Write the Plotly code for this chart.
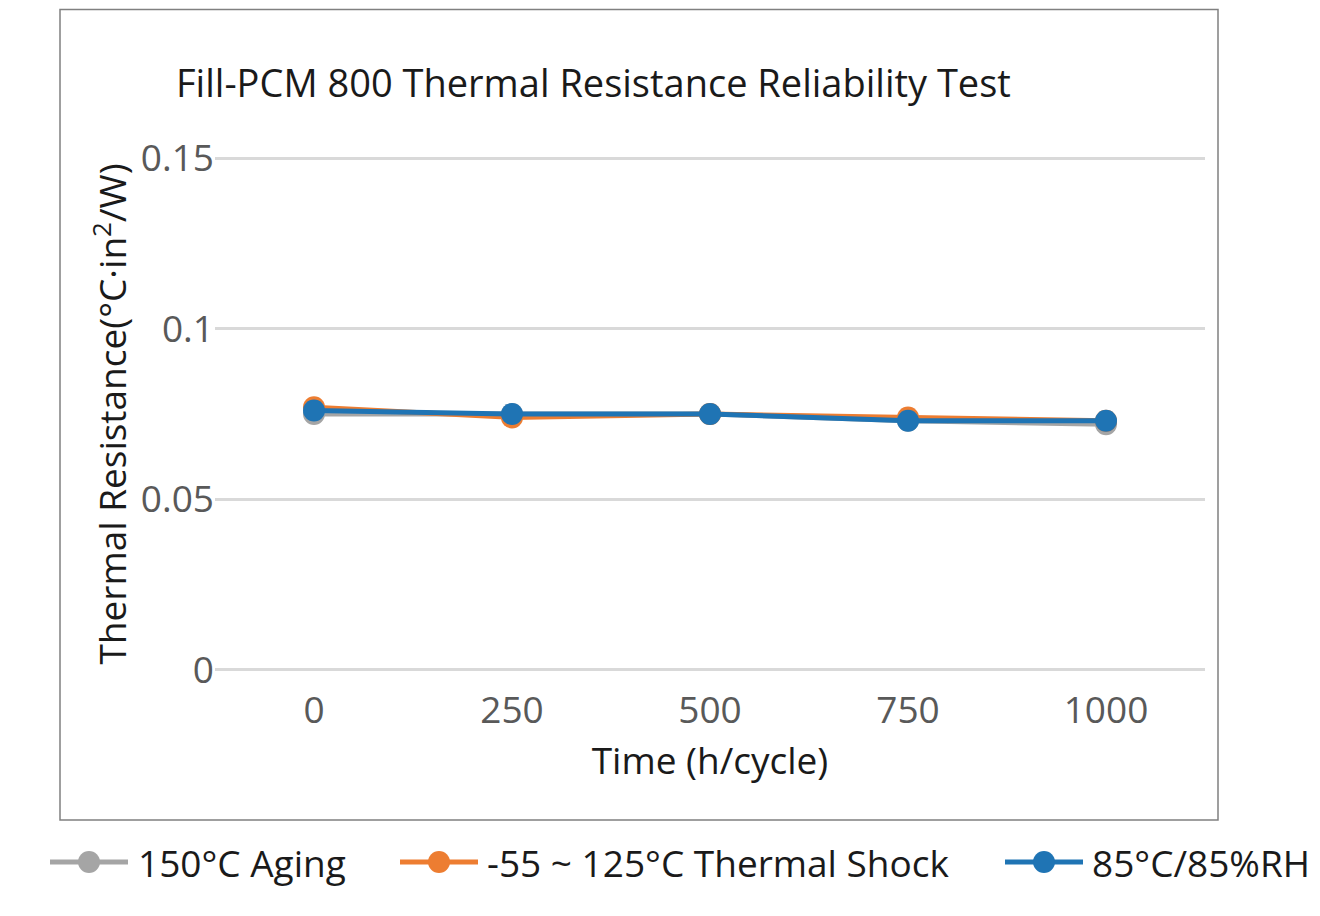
import plotly.graph_objects as go

categories = ["0", "250", "500", "750", "1000"]
aging = [0.075, 0.075, 0.075, 0.073, 0.072]
shock = [0.077, 0.074, 0.075, 0.074, 0.073]
humid = [0.076, 0.075, 0.075, 0.073, 0.073]
y_ticks = [0, 0.05, 0.1, 0.15]
y_tick_labels = ["0", "0.05", "0.1", "0.15"]

series = [
    ("150°C Aging", aging, "#A5A5A5"),
    ("-55 ~ 125°C Thermal Shock", shock, "#ED7D31"),
    ("85°C/85%RH", humid, "#1F74B4"),
]

FONT = "Open Sans"
OFF = 8  # page body margin
W, H = 1320 - OFF, 916 - OFF
L, R, T, B = 215 - OFF, 115, 157 - OFF, 245
pw, ph = W - L - R, H - T - B

def px(x):
    # x given in screenshot coords
    return (x - OFF - L) / pw

def py(y):
    return (H - B - (y - OFF)) / ph

fig = go.Figure()
for name, vals, col in series:
    fig.add_trace(go.Scatter(
        x=categories, y=vals, name=name, mode="lines+markers",
        line=dict(color=col, width=5),
        marker=dict(color=col, size=22),
        showlegend=False,
    ))

# outer frame
fig.add_shape(type="rect", xref="paper", yref="paper",
              x0=px(60), x1=px(1218), y0=py(820), y1=py(9.5),
              line=dict(color="#808080", width=1.5), fillcolor="rgba(0,0,0,0)", layer="below")

# title
fig.add_annotation(text="Fill-PCM 800 Thermal Resistance Reliability Test",
                   xref="paper", yref="paper", x=px(174), y=py(82),
                   xanchor="left", yanchor="middle", showarrow=False,
                   font=dict(family=FONT, size=38, color="#1a1a1a"))

# manual legend
legend_pos = [(50, 128, 136), (400, 478, 485), (1005, 1083, 1090)]
ly = 862
for (name, vals, col), (x0, x1, tx) in zip(series, legend_pos):
    fig.add_shape(type="line", xref="paper", yref="paper",
                  x0=px(x0), x1=px(x1), y0=py(ly), y1=py(ly),
                  line=dict(color=col, width=5))
    cx = (x0 + x1) / 2
    r = 11
    fig.add_shape(type="circle", xref="paper", yref="paper",
                  x0=px(cx - r), x1=px(cx + r), y0=py(ly + r), y1=py(ly - r),
                  line=dict(color=col, width=0), fillcolor=col)
    fig.add_annotation(text=name, xref="paper", yref="paper",
                       x=px(tx), y=py(ly), xanchor="left", yanchor="middle",
                       showarrow=False,
                       font=dict(family=FONT, size=37, color="#1a1a1a"))

fig.update_layout(
    width=W, height=H,
    margin=dict(l=L, r=R, t=T, b=B),
    plot_bgcolor="white", paper_bgcolor="white",
    font=dict(family=FONT, color="#595959"),
    showlegend=False,
    xaxis=dict(type="category", range=[-0.5, len(categories) - 0.5],
               showgrid=False, zeroline=False, showline=False,
               automargin=False, ticklabelstandoff=14,
               tickfont=dict(size=37, color="#595959"), ticks="",
               title=dict(text="Time (h/cycle)", font=dict(size=37, color="#1a1a1a"), standoff=6)),
    yaxis=dict(range=[-0.0003, 0.1503], tickvals=y_ticks, ticktext=y_tick_labels,
               showgrid=True, gridcolor="#D9D9D9", gridwidth=2.5, zeroline=False,
               automargin=False,
               showline=False, ticks="", tickfont=dict(size=37, color="#595959"),
               title=dict(text="Thermal Resistance(°C·in<sup>2</sup>/W)",
                          font=dict(size=37, color="#1a1a1a"), standoff=2)),
)

fig.write_html("out.html")
